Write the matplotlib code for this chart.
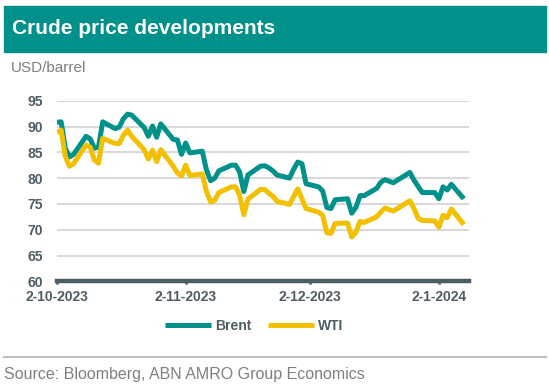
#!/usr/bin/python3
"""Crude price developments: Brent and WTI, Oct 2023 - Jan 2024"""

import datetime as dt

import matplotlib
matplotlib.use("Agg")
import matplotlib.pyplot as plt
import matplotlib.dates as mdates
from matplotlib.patches import Rectangle
from matplotlib.lines import Line2D

# data (USD/barrel)
dates = [
    "2023-10-02", "2023-10-03", "2023-10-04", "2023-10-05", "2023-10-06",
    "2023-10-09", "2023-10-10", "2023-10-11", "2023-10-12", "2023-10-13",
    "2023-10-16", "2023-10-17", "2023-10-18", "2023-10-19", "2023-10-20",
    "2023-10-23", "2023-10-24", "2023-10-25", "2023-10-26", "2023-10-27",
    "2023-10-30", "2023-10-31", "2023-11-01", "2023-11-02", "2023-11-03",
    "2023-11-06", "2023-11-07", "2023-11-08", "2023-11-09", "2023-11-10",
    "2023-11-13", "2023-11-14", "2023-11-15", "2023-11-16", "2023-11-17",
    "2023-11-20", "2023-11-21", "2023-11-22", "2023-11-23", "2023-11-24",
    "2023-11-27", "2023-11-28", "2023-11-29", "2023-11-30", "2023-12-01",
    "2023-12-04", "2023-12-05", "2023-12-06", "2023-12-07", "2023-12-08",
    "2023-12-11", "2023-12-12", "2023-12-13", "2023-12-14", "2023-12-15",
    "2023-12-18", "2023-12-19", "2023-12-20", "2023-12-21", "2023-12-22",
    "2023-12-26", "2023-12-27", "2023-12-28", "2023-12-29", "2024-01-01",
    "2024-01-02", "2024-01-03", "2024-01-04", "2024-01-05", "2024-01-08",
]

brent = [
    90.8, 90.9, 85.8, 84.1, 84.6,
    88.1, 87.6, 85.8, 86.0, 90.9,
    89.6, 89.9, 91.5, 92.4, 92.2,
    89.8, 88.1, 90.1, 87.9, 90.5,
    87.5, 87.4, 84.6, 86.8, 84.9,
    85.2, 81.6, 79.5, 80.0, 81.4,
    82.5, 82.5, 81.2, 77.4, 80.6,
    82.3, 82.4, 82.0, 81.4, 80.6,
    80.0, 81.7, 83.1, 82.8, 78.9,
    78.3, 77.5, 74.3, 74.1, 75.8,
    76.0, 73.2, 74.3, 76.6, 76.6,
    78.0, 79.2, 79.7, 79.4, 79.1,
    81.1, 79.6, 78.4, 77.2, 77.2,
    76.0, 78.3, 77.7, 78.8, 76.0,
]

wti = [
    88.8, 89.3, 84.2, 82.3, 82.8,
    86.4, 86.0, 83.5, 82.9, 87.7,
    86.7, 86.7, 88.3, 89.3, 88.1,
    85.5, 83.7, 85.4, 83.2, 85.5,
    82.3, 81.0, 80.4, 82.5, 80.5,
    80.8, 77.4, 75.4, 75.7, 77.2,
    78.3, 78.3, 76.7, 72.9, 75.9,
    77.8, 77.8, 77.1, 76.5, 75.5,
    74.9, 76.4, 77.9, 76.0, 74.1,
    73.4, 72.8, 69.4, 69.3, 71.2,
    71.3, 68.6, 69.5, 71.6, 71.4,
    72.5, 73.4, 74.2, 73.9, 73.6,
    75.6, 74.1, 72.2, 71.8, 71.7,
    70.5, 72.8, 72.3, 74.0, 71.0,
]

tick_dates = ["2023-10-02", "2023-11-02", "2023-12-02", "2024-01-02"]

GREEN = "#00918a"
YELLOW = "#f3c000"
DARK = "#4e5c64"
GREY = "#7f7f7f"

plt.rcParams["font.family"] = ["Liberation Sans", "DejaVu Sans"]

x = [dt.datetime.strptime(d, "%Y-%m-%d") for d in dates]
ticks = [dt.datetime.strptime(d, "%Y-%m-%d") for d in tick_dates]

fig = plt.figure(figsize=(5.49, 3.86), dpi=100)

# title banner
fig.patches.append(Rectangle((4 / 549, 1 - 52 / 386), 542 / 549, 46 / 386,
                             transform=fig.transFigure, color=GREEN, zorder=0))
fig.text(12 / 549, 1 - 29 / 386, "Crude price developments", color="white",
         fontsize=15, fontweight="bold", va="center", ha="left")
fig.text(11 / 549, 1 - 68 / 386, "USD/barrel", color=GREY, fontsize=11,
         va="center", ha="left")

ax = fig.add_axes([57 / 549, 1 - 281.3 / 386, 412 / 549, 180.6 / 386])

brent_line, = ax.plot(x, brent, color=GREEN, lw=3.6, label="Brent",
                      solid_joinstyle="round", solid_capstyle="butt", zorder=3)
wti_line, = ax.plot(x, wti, color=YELLOW, lw=3.6, label="WTI",
                    solid_joinstyle="round", solid_capstyle="butt", zorder=3)

ax.set_ylim(60, 95)
ax.set_yticks(range(60, 96, 5))
ax.set_xlim(dt.datetime(2023, 10, 2), dt.datetime(2024, 1, 9, 6))
ax.set_xticks(ticks)
ax.xaxis.set_major_formatter(
    plt.FuncFormatter(lambda v, p: "{0.day}-{0.month}-{0.year}".format(mdates.num2date(v))))

ax.grid(axis="y", color="#d9d9d9", lw=1.5)
ax.set_axisbelow(True)
for side in ["top", "right", "left"]:
    ax.spines[side].set_visible(False)
ax.spines["bottom"].set_color(DARK)
ax.spines["bottom"].set_linewidth(3.2)
ax.spines["bottom"].set_zorder(4)

ax.tick_params(axis="y", length=0, pad=10, labelsize=10, labelcolor=DARK)
ax.tick_params(axis="x", length=2.5, width=2, color=DARK, pad=4,
               labelsize=10, labelcolor=DARK)
for lab in ax.get_xticklabels() + ax.get_yticklabels():
    lab.set_fontweight("bold")

fig.legend(handles=[brent_line, wti_line], loc="center",
           bbox_to_anchor=(254 / 549, 1 - 326 / 386), ncol=2, frameon=False,
           handlelength=3.3, handletextpad=0.3, columnspacing=1.2,
           prop={"weight": "bold", "size": 10}, labelcolor=DARK)

# separator and source
fig.lines.append(Line2D([4 / 549, 546 / 549], [1 - 357 / 386, 1 - 357 / 386],
                        transform=fig.transFigure, color="#bfbfbf", lw=1.5))
fig.text(4 / 549, 1 - 375 / 386, "Source: Bloomberg, ABN AMRO Group Economics",
         color=GREY, fontsize=11.5, va="center", ha="left")

fig.savefig("out.png", dpi=100)
